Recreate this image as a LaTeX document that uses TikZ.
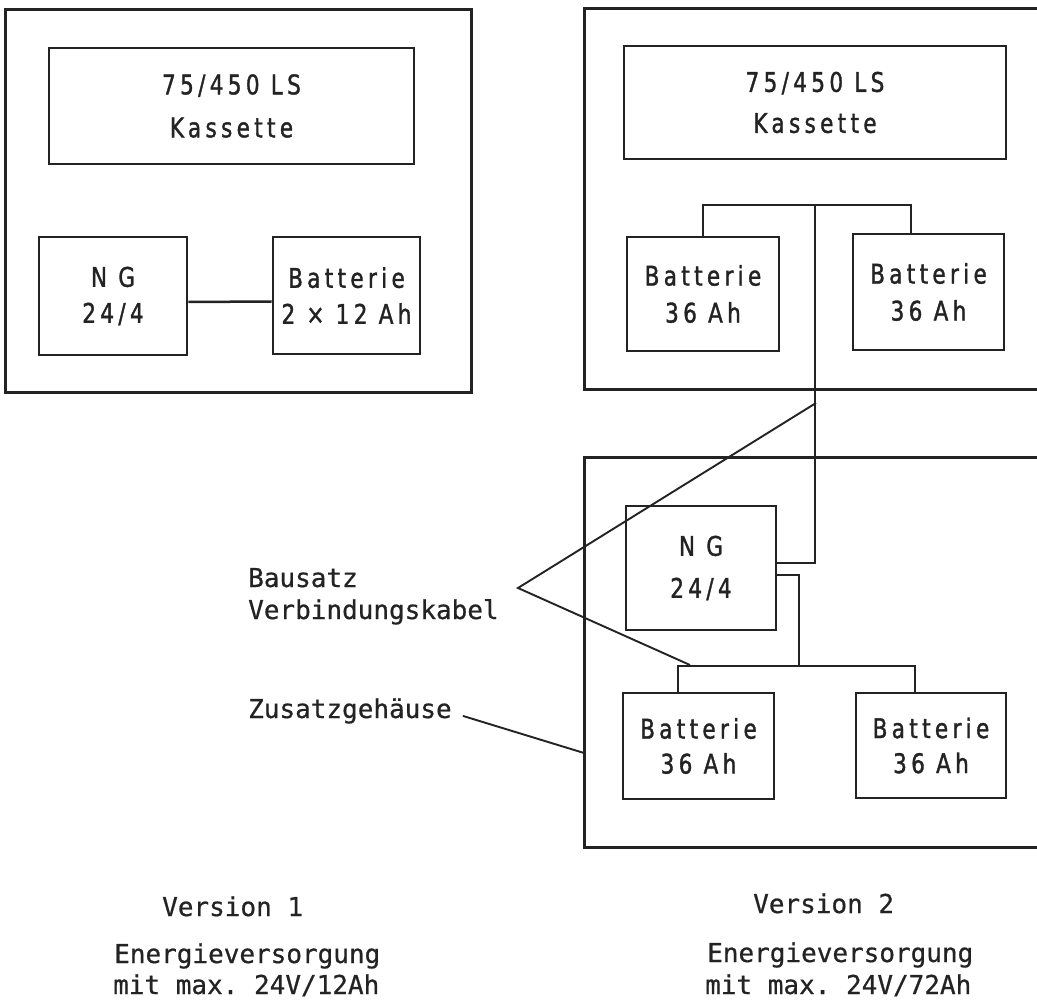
\documentclass[tikz,border=0pt]{standalone}
\usepackage{fontspec}
\setmonofont[FakeBold=0.6]{DejaVu Sans Mono}
\newfontfamily\dinfont[FakeStretch=0.8,LetterSpace=16,FakeBold=1.3]{DejaVu Sans}
\definecolor{ink}{RGB}{35,35,35}
\begin{document}
\begin{tikzpicture}[x=1pt,y=-1pt,
  case/.style={draw=ink,line width=3pt,inner sep=0pt},
  ubox/.style={draw=ink,line width=2.8pt,inner sep=0pt,align=center,text=ink,
    font=\dinfont\fontsize{27}{#1}\selectfont},
  wire/.style={draw=ink,line width=2.5pt},
  lead/.style={draw=ink,line width=1.9pt},
  lbl/.style={inner sep=0pt,text=ink,font=\ttfamily\fontsize{26}{32}\selectfont,anchor=base west}]
\clip (0,0) rectangle (1037,1000);
\fill[white] (0,0) rectangle (1037,1000);
% Version 1
\node[case,minimum width=466,minimum height=383] (v1case) at (238,201.5) {};
\node[ubox=43,minimum width=365,minimum height=116] (v1kas) at (231.5,106) {75/450 LS\\Kassette};
\node[ubox=36,minimum width=148,minimum height=118] (v1ng) at (113,296) {N G\\24/4};
\node[ubox=36,minimum width=147,minimum height=117] (v1bat) at (346.5,295.5) {Batterie\\2 × 12 Ah};
\draw[wire] ([yshift=-6pt]v1ng.east) -- ([yshift=-6pt]v1bat.west);
% Version 2, main case
\node[case,minimum width=466,minimum height=381] (v2case) at (817,199.5) {};
\node[ubox=41,minimum width=382,minimum height=113] (v2kas) at (815,102.5) {75/450 LS\\Kassette};
\node[ubox=37,minimum width=152,minimum height=114] (v2batL) at (703,294) {Batterie\\36 Ah};
\node[ubox=37,minimum width=151,minimum height=116] (v2batR) at (928.5,292) {Batterie\\36 Ah};
\coordinate (bus1) at (815,205);
\draw[wire] (v2batL.north) |- (bus1) -| ([xshift=-17.5pt]v2batR.north);
% Version 2, additional case
\node[case,minimum width=466,minimum height=390] (v2add) at (817,652) {};
\node[ubox=42,minimum width=150,minimum height=124] (v2ng) at (701,568) {N G\\24/4};
\node[ubox=35,minimum width=151,minimum height=106] (v2batL2) at (698.5,746) {Batterie\\36 Ah};
\node[ubox=35,minimum width=150,minimum height=105] (v2batR2) at (931,745.5) {Batterie\\36 Ah};
\draw[wire] (bus1) |- ([yshift=5pt]v2ng.east);
\coordinate (bus2) at (799,666);
\draw[wire] ([yshift=-7pt]v2ng.east) -| (bus2);
\draw[wire] ([xshift=-20.5pt]v2batL2.north) |- (bus2) -| ([xshift=-16pt]v2batR2.north);
% cable kit pointer
\coordinate (k1) at (816,403);
\coordinate (kapex) at (518,588);
\coordinate (k2) at (690,665);
\draw[lead] (k1) -- (kapex) -- (k2);
% labels
\node[lbl] (bausatz) at (248,587) {Bausatz};
\node[lbl] (verbkab) at (248,619) {Verbindungskabel};
\node[lbl] (zus) at (248,718) {Zusatzgehäuse};
\coordinate (zusEnd) at (584,753);
\draw[lead] ([xshift=11pt,yshift=-5pt]zus.east) -- (zusEnd);
% captions
\node[lbl] (ver1) at (162,916) {Version 1};
\node[lbl] (en1) at (114,963) {Energieversorgung};
\node[lbl] (mit1) at (113,994) {mit max. 24V/12Ah};
\node[lbl] (ver2) at (753,913) {Version 2};
\node[lbl] (en2) at (707,962) {Energieversorgung};
\node[lbl] (mit2) at (705,994) {mit max. 24V/72Ah};
\end{tikzpicture}
\end{document}
